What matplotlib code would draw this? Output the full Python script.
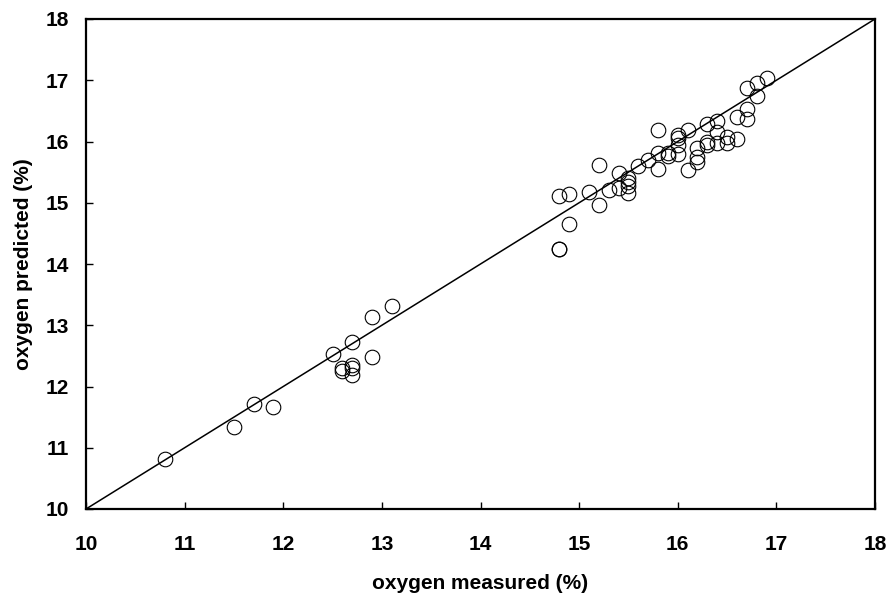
import matplotlib
matplotlib.use("Agg")
import matplotlib.pyplot as plt

measured = [10.8, 11.5, 11.7, 11.9,
            12.5, 12.6, 12.6, 12.7, 12.7, 12.7, 12.7, 12.9, 12.9, 13.1,
            14.8, 14.8, 14.8, 14.9, 14.9, 15.1, 15.2, 15.2, 15.3, 15.4, 15.4,
            15.5, 15.5, 15.5, 15.5, 15.6, 15.7, 15.8, 15.8, 15.8, 15.9, 15.9,
            16.0, 16.0, 16.0, 16.0, 16.1, 16.1, 16.2, 16.2, 16.2, 16.3, 16.3,
            16.3, 16.4, 16.4, 16.4, 16.5, 16.5, 16.6, 16.6, 16.7, 16.7, 16.7,
            16.8, 16.8, 16.9]
predicted = [10.82, 11.34, 11.72, 11.66,
             12.53, 12.30, 12.25, 12.72, 12.35, 12.30, 12.18, 13.14, 12.48, 13.32,
             14.25, 14.24, 15.11, 15.15, 14.65, 15.17, 15.61, 14.97, 15.21, 15.24, 15.49,
             15.40, 15.34, 15.28, 15.16, 15.60, 15.70, 16.18, 15.82, 15.55, 15.81, 15.77,
             16.10, 16.05, 15.95, 15.80, 16.19, 15.53, 15.90, 15.75, 15.67, 16.28, 16.00,
             15.94, 16.34, 16.15, 15.97, 16.08, 15.97, 16.40, 16.04, 16.88, 16.53, 16.36,
             16.95, 16.75, 17.04]

axis_min, axis_max = 10, 18
ticks = list(range(10, 19))

plt.rcParams['font.family'] = ['Liberation Sans', 'DejaVu Sans']

fig = plt.figure(figsize=(8.91, 5.94), dpi=100)
ax = fig.add_axes([86 / 891, 1 - 509 / 594, (875 - 86) / 891, (509 - 19) / 594])

# 1:1 reference line
ax.plot([axis_min, axis_max], [axis_min, axis_max], color='black', lw=1.1, zorder=1)
ax.plot(measured, predicted, linestyle='none', marker='o', markersize=10.5,
        markerfacecolor='none', markeredgecolor='black', markeredgewidth=0.8, zorder=2)

ax.set_xlim(axis_min, axis_max)
ax.set_ylim(axis_min, axis_max)
ax.set_xticks(ticks)
ax.set_yticks(ticks)
ax.tick_params(direction='in', length=5, width=1, top=False, right=False,
               labelsize=15)
ax.tick_params(axis='x', pad=19)
ax.tick_params(axis='y', pad=12)
for lbl in ax.get_xticklabels() + ax.get_yticklabels():
    lbl.set_fontweight('bold')
for sp in ax.spines.values():
    sp.set_linewidth(1.6)

ax.set_xlabel('oxygen measured (%)', fontsize=15, fontweight='bold', labelpad=14)
ax.set_ylabel('oxygen predicted (%)', fontsize=15, fontweight='bold', labelpad=9)

fig.savefig('out.png', dpi=100)
